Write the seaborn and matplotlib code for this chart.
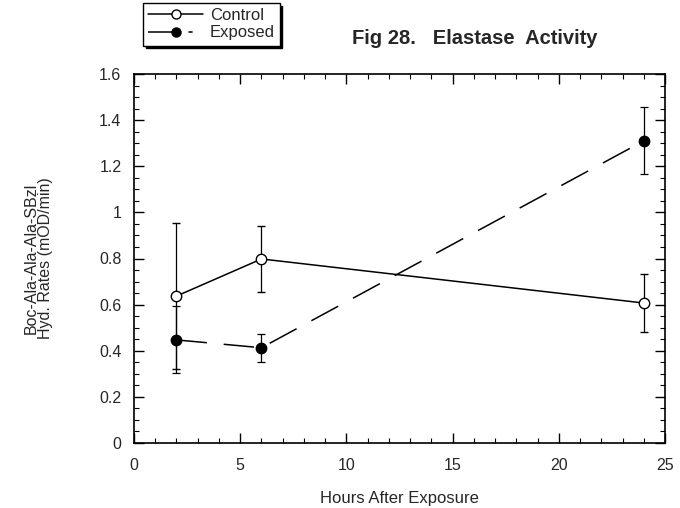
import numpy as np
import pandas as pd
import matplotlib
matplotlib.use("Agg")
import matplotlib.pyplot as plt
import seaborn as sns
from matplotlib.ticker import MultipleLocator
from matplotlib.lines import Line2D

hours = [2, 6, 24]
control = [0.637, 0.798, 0.607]
control_err = [0.318, 0.142, 0.125]
exposed = [0.447, 0.413, 1.31]
exposed_err = [0.145, 0.06, 0.145]
groups = ["Control", "Exposed"]
ytick_labels = ["0", "0.2", "0.4", "0.6", "0.8", "1", "1.2", "1.4", "1.6"]

sns.set_style("ticks")
plt.rcParams['font.family'] = ['Liberation Sans', 'DejaVu Sans']

df = pd.DataFrame({
    "Hours": hours * 2,
    "Rate": control + exposed,
    "Group": [groups[0]] * 3 + [groups[1]] * 3,
})

fig = plt.figure(figsize=(6.8, 5.08), dpi=100)
ax = fig.add_axes([134/680, 1 - 443/508, (665-134)/680, (443-74)/508])

lw = 1.1
sns.lineplot(data=df, x="Hours", y="Rate", hue="Group", style="Group",
             palette={"Control": "black", "Exposed": "black"},
             dashes={"Control": "", "Exposed": (20, 11)},
             markers={"Control": "o", "Exposed": "o"},
             linewidth=lw, legend=False, ax=ax, zorder=3,
             markersize=0)

ax.errorbar(hours, control, yerr=control_err, fmt="o", ms=7.5, mfc="white",
            mec="black", mew=1.0, ecolor="black", elinewidth=0.9, capsize=3,
            capthick=0.9, zorder=4)
ax.errorbar(hours, exposed, yerr=exposed_err, fmt="o", ms=7.5, mfc="black",
            mec="black", ecolor="black", elinewidth=0.9, capsize=3,
            capthick=0.9, zorder=4)

ax.set_xlim(0, 25)
ax.set_ylim(0, 1.6)
ax.xaxis.set_major_locator(MultipleLocator(5))
ax.xaxis.set_minor_locator(MultipleLocator(1))
ax.yaxis.set_minor_locator(MultipleLocator(0.05))
ax.set_yticks(np.arange(0, 1.61, 0.2))
ax.set_yticklabels(ytick_labels)
ax.tick_params(which="both", direction="in", top=True, right=True,
               labelsize=11.5, color="black")
ax.tick_params(which="major", length=7, width=1.0)
ax.tick_params(axis="x", which="major", pad=11)
ax.tick_params(axis="y", which="major", pad=9)
ax.tick_params(which="minor", length=3.5, width=0.8)
for s in ax.spines.values():
    s.set_linewidth(1.2)
    s.set_color("black")

ax.set_xlabel("Hours After Exposure", fontsize=12, labelpad=13)
ax.set_ylabel("Boc-Ala-Ala-Ala-SBzl\nHyd. Rates (mOD/min)", fontsize=11.5,
              labelpad=33, linespacing=0.95)

fig.text(352/680, 1 - 39/508, "Fig 28.   Elastase  Activity", fontsize=14.5,
         fontweight="bold", va="center", ha="left")

handles = [
    Line2D([], [], color="black", lw=lw, marker="o", ms=6.5, mfc="white", mec="black"),
    Line2D([], [], color="black", lw=lw, marker="o", ms=6.5, mfc="black", mec="black",
           dashes=(20, 6.5, 2.7, 30)),
]
leg = fig.legend(handles, ["Control", "Exposed"], loc="upper left",
                 bbox_to_anchor=(143/680, 1 - 3/508), frameon=True,
                 fancybox=False, shadow={"color": "black", "alpha": 1},
                 handlelength=3.3, handletextpad=0.4, borderpad=0.3,
                 labelspacing=0.15, fontsize=12, borderaxespad=0)
leg.get_frame().set_edgecolor("black")
leg.get_frame().set_linewidth(1.0)

fig.savefig("out.png", dpi=100)
